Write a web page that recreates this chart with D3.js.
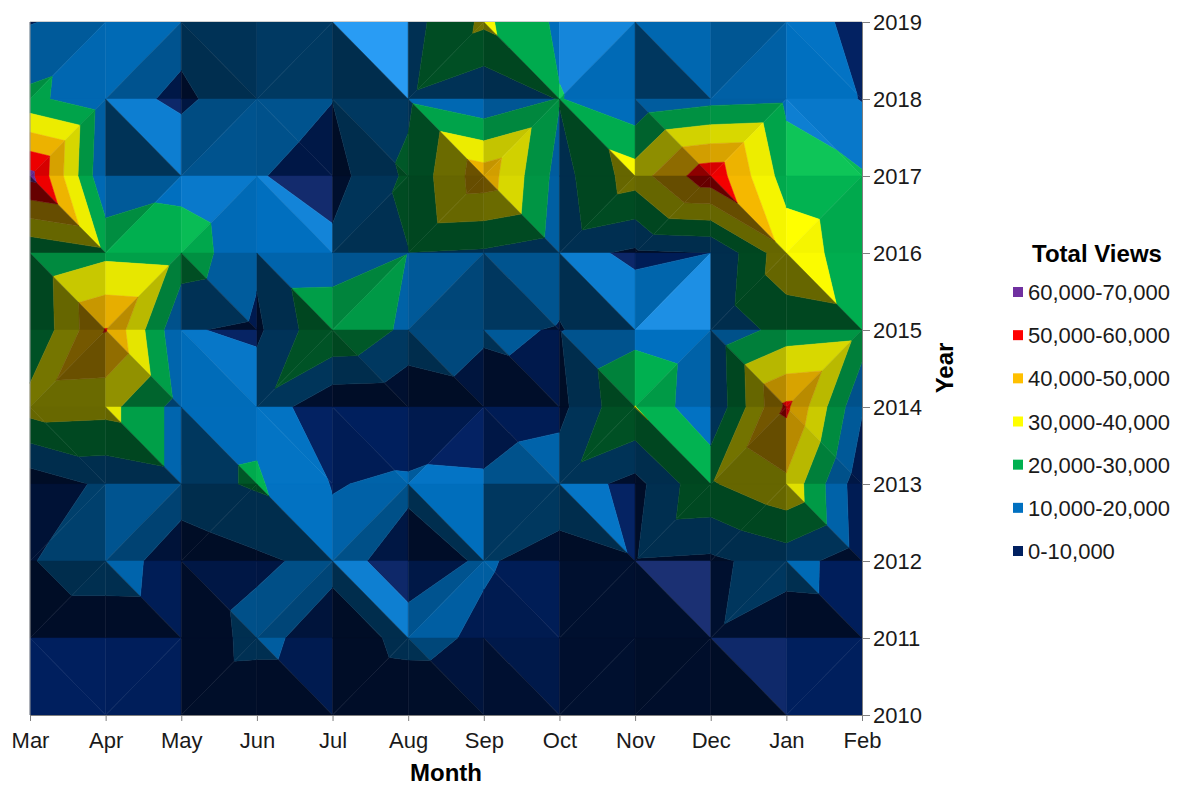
<!DOCTYPE html>
<html>
<head>
<meta charset="utf-8">
<script src="https://d3js.org/d3.v7.min.js"></script>
<style>
  body { margin: 0; background: #fff; }
  text { font-family: "Liberation Sans", Arial, sans-serif; fill: #1a1a1a; }
  .axis text { font-size: 22px; }
  .axis path, .axis line { stroke: #7f7f7f; stroke-width: 1; }
  .title { font-size: 24px; font-weight: bold; fill: #000; }
  .legendLabel { font-size: 22px; }
</style>
</head>
<body>
<script>
const months = ['Mar', 'Apr', 'May', 'Jun', 'Jul', 'Aug', 'Sep', 'Oct', 'Nov', 'Dec', 'Jan', 'Feb'];
const years = ['2019', '2018', '2017', '2016', '2015', '2014', '2013', '2012', '2011', '2010'];

// total views per month, one row per year tick
const views2019 = [9500, 14000, 12500, 17500, 19500, 16000, 32000, 18000, 12500, 14000, 17000, 6000];
const views2018 = [22500, 13000, 8500, 15000, 10200, 18400, 11000, 20500, 12000, 16500, 18000, 9500];
const views2017 = [63000, 11000, 16000, 10650, 6000, 22000, 46000, 16000, 35000, 57000, 25000, 21000];
const views2016 = [21000, 27500, 26000, 12000, 12500, 19800, 18500, 13600, 8200, 10000, 37000, 23000];
const views2015 = [20200, 50500, 11000, 8000, 29500, 17600, 11500, 9500, 16400, 12000, 24000, 26400];
const views2014 = [34400, 33500, 16000, 17000, 2000, 1000, 5000, 7000, 30200, 10800, 52000, 11000];
const views2013 = [3600, 12000, 16000, 21300, 9500, 11700, 11200, 16000, 6600, 29000, 38000, 3000];
const views2012 = [9300, 16800, 3200, 8100, 13200, 6200, 11000, 6000, 9300, 8000, 14500, 4200];
const views2011 = [1700, 1700, 2000, 13700, 3800, 13200, 8300, 4000, 6000, 9000, 3000, 4000];
const views2010 = [2000, 2000, 1400, 500, 500, 2000, 2200, 500, 0, 0, 5500, 3000];
const viewRows = [views2019, views2018, views2017, views2016, views2015, views2014, views2013, views2012, views2011, views2010];

const bandLabels = ['0-10,000', '10,000-20,000', '20,000-30,000', '30,000-40,000', '40,000-50,000', '50,000-60,000', '60,000-70,000'];
const bandColors = ['#002060', '#0070c0', '#00b050', '#ffff00', '#ffc000', '#ff0000', '#7030a0'];
const BAND_SIZE = 10000;

const WIDTH = 1179;
const HEIGHT = 786;

var xScale = d3.scalePoint().domain(months).range([30, 862]);
var yScale = d3.scalePoint().domain(years).range([22, 715]);

var vertex = function(r, c) {
  return {c: c, r: r, v: viewRows[r][c], x: xScale(months[c]), y: yScale(years[r])};
};

// light comes from the upper left of the value surface, as in a spreadsheet contour
var shadeOf = function(a, b, c) {
  var det = (b.c - a.c) * (c.r - a.r) - (c.c - a.c) * (b.r - a.r);
  var gx = ((b.v - a.v) * (c.r - a.r) - (c.v - a.v) * (b.r - a.r)) / det;
  var gy = -((c.v - a.v) * (b.c - a.c) - (b.v - a.v) * (c.c - a.c)) / det;
  var nx = -gx * 0.0003, ny = -gy * 0.0003, nz = 1;
  var len = Math.sqrt(nx * nx + ny * ny + nz * nz);
  var dot = (nx * 0.5 + ny * 0.5 + nz * 0.7) / len;
  var s;
  if (dot > 0.9) s = 1.085 + (dot - 0.9) * 2;
  else if (dot > 0) s = 0.5 + 0.65 * dot;
  else s = 0.5 + 0.25 * dot;
  return Math.max(0.4, s);
};

var shadeColor = function(color, s) {
  var rgb = d3.rgb(color);
  var extra = Math.max(0, s - 1);
  return d3.rgb(rgb.r * s + extra * 170, rgb.g * s + extra * 70, rgb.b * s + extra * 20).formatHex();
};

// keep the part of a polygon on one side of a value level
var clipLevel = function(points, level, keepAbove) {
  var out = [];
  points.forEach(function(p, i) {
    var q = points[(i + 1) % points.length];
    var pIn = keepAbove ? p.v >= level : p.v <= level;
    var qIn = keepAbove ? q.v >= level : q.v <= level;
    if (pIn) out.push(p);
    if (pIn !== qIn) {
      var t = (level - p.v) / (q.v - p.v);
      out.push({v: level, x: p.x + (q.x - p.x) * t, y: p.y + (q.y - p.y) * t});
    }
  });
  return out;
};

var buildPieces = function() {
  var pieces = [];
  d3.range(years.length - 1).forEach(function(r) {
    d3.range(months.length - 1).forEach(function(c) {
      var tl = vertex(r, c), tr = vertex(r, c + 1), bl = vertex(r + 1, c), br = vertex(r + 1, c + 1);
      // each cell folds along its higher diagonal
      var tris = (tl.v + br.v >= tr.v + bl.v) ? [[tl, tr, br], [tl, br, bl]] : [[tl, tr, bl], [tr, br, bl]];
      tris.forEach(function(tri) {
        var s = shadeOf(tri[0], tri[1], tri[2]);
        bandColors.forEach(function(color, i) {
          var poly = clipLevel(tri, i * BAND_SIZE, true);
          if (poly.length) poly = clipLevel(poly, (i + 1) * BAND_SIZE, false);
          if (poly.length > 2) pieces.push({points: poly, fill: shadeColor(color, s)});
        });
      });
    });
  });
  return pieces;
};

var onload = function() {
  var svg = d3.select('body').append('svg')
      .attr('width', WIDTH)
      .attr('height', HEIGHT);

  var line = d3.line()
      .x(function(d) { return d.x; })
      .y(function(d) { return d.y; })
      .curve(d3.curveLinearClosed);

  svg.append('g').selectAll('path')
      .data(buildPieces())
      .enter()
      .append('path')
      .attr('d', function(d) { return line(d.points); })
      .attr('fill', function(d) { return d.fill; })
      .attr('stroke', function(d) { return d.fill; })
      .attr('stroke-width', 0.5);

  svg.append('g')
      .attr('class', 'axis')
      .attr('transform', 'translate(0,715)')
      .call(d3.axisBottom(xScale).tickSize(6).tickPadding(11));

  svg.append('g')
      .attr('class', 'axis')
      .attr('transform', 'translate(862,0)')
      .call(d3.axisRight(yScale).tickSize(8).tickPadding(3));

  svg.append('line')
      .attr('x1', 30).attr('x2', 862).attr('y1', 21.5).attr('y2', 21.5)
      .attr('stroke', '#cfcfcf');

  svg.append('line')
      .attr('x1', 30).attr('x2', 30).attr('y1', 22).attr('y2', 715)
      .attr('stroke', '#9a9a9a');

  svg.append('text').attr('class', 'title')
      .attr('x', 446).attr('y', 781)
      .attr('text-anchor', 'middle')
      .text('Month');

  svg.append('text').attr('class', 'title')
      .attr('transform', 'translate(953,368) rotate(-90)')
      .attr('text-anchor', 'middle')
      .text('Year');

  svg.append('text').attr('class', 'title')
      .attr('x', 1097).attr('y', 262)
      .attr('text-anchor', 'middle')
      .text('Total Views');

  var legendScale = d3.scalePoint().domain(bandLabels).range([551, 292]);

  var legend = svg.append('g').selectAll('g')
      .data(bandLabels)
      .enter()
      .append('g')
      .attr('transform', function(d) { return 'translate(1013,' + legendScale(d) + ')'; });

  legend.append('rect')
      .attr('x', 0).attr('y', -5)
      .attr('width', 10).attr('height', 10)
      .attr('fill', function(d, i) { return bandColors[i]; });

  legend.append('text')
      .attr('class', 'legendLabel')
      .attr('x', 15).attr('y', 8)
      .text(function(d) { return d; });
};

window.onload = onload;
</script>
</body>
</html>
